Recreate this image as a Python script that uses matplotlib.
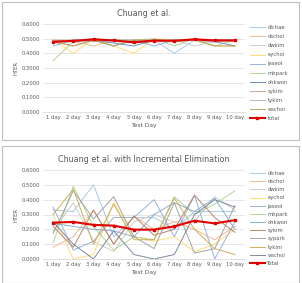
import matplotlib
matplotlib.use("Agg")
import matplotlib.pyplot as plt
from matplotlib.patches import Rectangle

days = ["1 day", "2 day", "3 day", "4 day", "5 day", "6 day", "7 day", "8 day", "9 day", "10 day"]

# Top chart (Chuang et al.)
top_names = ["dlchae", "dschoi", "dwkim", "eychoi", "jaseol", "mhpark", "ohkwon", "sykim", "tykim", "wschoi"]
top_dlchae = [0.48, 0.49, 0.50, 0.49, 0.48, 0.49, 0.40, 0.49, 0.49, 0.49]
top_dschoi = [0.49, 0.48, 0.45, 0.49, 0.48, 0.49, 0.48, 0.50, 0.49, 0.49]
top_dwkim = [0.47, 0.49, 0.49, 0.48, 0.47, 0.48, 0.49, 0.45, 0.48, 0.48]
top_eychoi = [0.49, 0.40, 0.50, 0.45, 0.40, 0.50, 0.49, 0.50, 0.45, 0.45]
top_jaseol = [0.45, 0.49, 0.49, 0.45, 0.49, 0.45, 0.49, 0.49, 0.49, 0.49]
top_mhpark = [0.35, 0.48, 0.50, 0.49, 0.49, 0.50, 0.45, 0.50, 0.45, 0.49]
top_ohkwon = [0.48, 0.48, 0.49, 0.47, 0.45, 0.49, 0.49, 0.49, 0.48, 0.45]
top_sykim = [0.49, 0.49, 0.48, 0.49, 0.49, 0.49, 0.49, 0.49, 0.49, 0.49]
top_tykim = [0.48, 0.45, 0.49, 0.49, 0.49, 0.48, 0.48, 0.49, 0.48, 0.49]
top_wschoi = [0.48, 0.45, 0.49, 0.45, 0.49, 0.49, 0.49, 0.49, 0.45, 0.45]
top_total = [0.479, 0.485, 0.495, 0.488, 0.475, 0.487, 0.485, 0.495, 0.488, 0.488]
top_series = [top_dlchae, top_dschoi, top_dwkim, top_eychoi, top_jaseol, top_mhpark,
              top_ohkwon, top_sykim, top_tykim, top_wschoi]

# Bottom chart (with Incremental Elimination)
bot_names = ["dlchae", "dschoi", "dwkim", "eychoi", "jaseol", "mhpark", "ohkwon", "sykim", "sypark", "tykim", "wschoi"]
bot_dlchae = [0.33, 0.32, 0.50, 0.15, 0.28, 0.28, 0.20, 0.32, 0.32, 0.32]
bot_dschoi = [0.08, 0.15, 0.33, 0.10, 0.29, 0.20, 0.25, 0.20, 0.13, 0.22]
bot_dwkim = [0.19, 0.38, 0.12, 0.05, 0.25, 0.30, 0.25, 0.25, 0.42, 0.33]
bot_eychoi = [0.30, 0.00, 0.03, 0.38, 0.15, 0.12, 0.15, 0.05, 0.10, 0.20]
bot_jaseol = [0.35, 0.06, 0.12, 0.28, 0.28, 0.40, 0.15, 0.43, 0.00, 0.25]
bot_mhpark = [0.11, 0.49, 0.22, 0.06, 0.15, 0.13, 0.42, 0.30, 0.37, 0.46]
bot_ohkwon = [0.24, 0.22, 0.20, 0.19, 0.15, 0.30, 0.38, 0.32, 0.41, 0.20]
bot_sykim = [0.22, 0.08, 0.33, 0.10, 0.29, 0.16, 0.20, 0.43, 0.28, 0.18]
bot_sypark = [0.17, 0.46, 0.27, 0.42, 0.15, 0.07, 0.38, 0.04, 0.07, 0.36]
bot_tykim = [0.30, 0.47, 0.10, 0.37, 0.13, 0.13, 0.41, 0.20, 0.07, 0.03]
bot_wschoi = [0.25, 0.10, 0.00, 0.19, 0.03, 0.00, 0.03, 0.30, 0.40, 0.35]
bot_total = [0.245, 0.250, 0.230, 0.225, 0.198, 0.198, 0.220, 0.258, 0.240, 0.262]
bot_series = [bot_dlchae, bot_dschoi, bot_dwkim, bot_eychoi, bot_jaseol, bot_mhpark,
              bot_ohkwon, bot_sykim, bot_sypark, bot_tykim, bot_wschoi]

yticks = [0.0, 0.1, 0.2, 0.3, 0.4, 0.5, 0.6]

top_colors = ["#9DC3E6", "#F4B183", "#C9C9C9", "#FFD966", "#8FAADC", "#A9D18E",
              "#5B86B5", "#C59E8A", "#B0B0B0", "#B89B4A"]
bot_colors = ["#9DC3E6", "#F4B183", "#C9C9C9", "#FFD966", "#8FAADC", "#A9D18E",
              "#7FA6CF", "#B07A5E", "#9A9A9A", "#C9A94A", "#6F7F99"]

W, H = 302, 283
fig = plt.figure(figsize=(W / 100, H / 100), dpi=100)
txt = "#595959"

def px(x0, y0, x1, y1):
    return [x0 / W, 1 - y1 / H, (x1 - x0) / W, (y1 - y0) / H]

def panel(box, axbox, title, names, series, colors, total, total_label, leg_top, leg_sp):
    fig.patches.append(Rectangle((box[0], box[1]), box[2], box[3], transform=fig.transFigure,
                                 fill=False, edgecolor="#BFBFBF", linewidth=0.8))
    ax = fig.add_axes(axbox)
    x = list(range(len(days)))
    for n, s, c in zip(names, series, colors):
        ax.plot(x, s, color=c, linewidth=0.7, label=n, alpha=0.9)
    ax.plot(x, total, color="#E00000", linewidth=1.5, marker="s", markersize=2.0, label=total_label)
    ax.set_ylim(0, 0.6)
    ax.set_xlim(-0.5, len(days) - 0.5)
    ax.set_yticks(yticks)
    ax.set_yticklabels([f"{v:.4f}" for v in yticks])
    ax.set_xticks(x)
    ax.set_xticklabels(days)
    ax.tick_params(labelsize=3.8, colors=txt, length=0, pad=2)
    ax.grid(axis="y", color="#E3E3E3", linewidth=0.6)
    ax.set_axisbelow(True)
    for sp in ax.spines.values():
        sp.set_visible(False)
    ax.spines["bottom"].set_visible(True)
    ax.spines["bottom"].set_color("#D9D9D9")
    ax.spines["bottom"].set_linewidth(0.6)
    ax.set_ylabel("HTER", fontsize=3.8, color=txt, labelpad=2)
    ax.set_xlabel("Test Day", fontsize=4.3, color=txt, labelpad=2)
    ax.set_title(title, fontsize=5.8, color=txt, pad=6)
    ax.legend(loc="upper left", bbox_to_anchor=(250 / W, 1 - leg_top / H), bbox_transform=fig.transFigure,
              frameon=False, fontsize=3.8, handlelength=2.8, labelspacing=leg_sp, handletextpad=0.5,
              borderaxespad=0, borderpad=0, labelcolor=txt)
    return ax

panel((2 / W, 1 - 140 / H, 297 / W, 138 / H), px(43, 24, 245, 112), "Chuang et al.",
      top_names, top_series, top_colors, top_total, "total", 25, 0.78)
panel((2 / W, 1 - 283 / H, 297 / W, 137 / H), px(43, 170, 245, 259),
      "Chuang et al. with Incremental Elimination",
      bot_names, bot_series, bot_colors, bot_total, "Total", 171, 0.6)

fig.savefig("out.png", dpi=100)
